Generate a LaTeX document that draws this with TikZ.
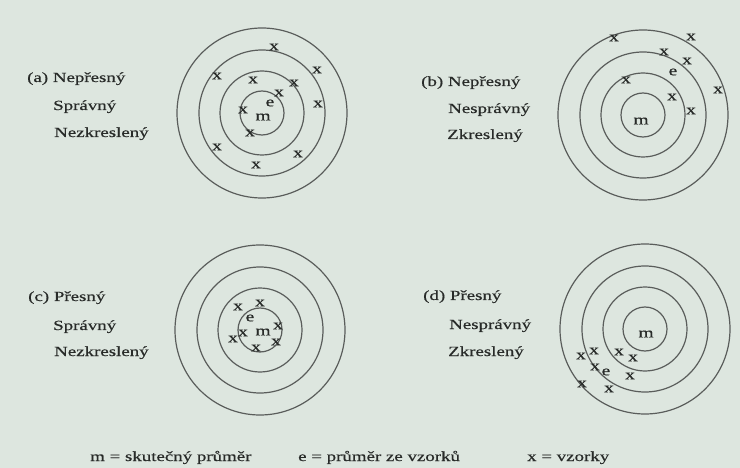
\documentclass[tikz,border=0pt]{standalone}
\usepackage{fontspec}
\setmainfont{Liberation Serif}[FakeStretch=1.35,FakeBold=0.5]
\definecolor{bgcol}{RGB}{221,230,223}
\definecolor{ringcol}{RGB}{90,93,91}
\definecolor{txtcol}{RGB}{40,43,41}
\begin{document}
\begin{tikzpicture}[x=1pt,y=-1pt,
  ring/.style={draw=ringcol, line width=1.2pt},
  lbl/.style={anchor=base west, text=txtcol, font=\fontsize{14}{14}\selectfont, inner sep=0pt},
  mk/.style={text=txtcol, font=\fontsize{14.5}{14.5}\selectfont, inner sep=0pt}]
\fill[bgcol] (0,0) rectangle (740,468);
\useasboundingbox (0,0) rectangle (740,468);
% target centres
\coordinate (A) at (262,113);
\coordinate (B) at (643,115);
\coordinate (C) at (260,330);
\coordinate (D) at (645,329);
\foreach \c in {A,B,C,D}{
  \foreach \r in {85,63,42,22}{
    \draw[ring] (\c) circle[radius=\r];
  }
}
% labels
\node[lbl] (a1) at (27,82) {(a) Nepřesný};
\node[lbl] (a2) at (53,110) {Správný};
\node[lbl] (a3) at (54,137) {Nezkreslený};
\node[lbl] (b1) at (421,86) {(b) Nepřesný};
\node[lbl] (b2) at (448,113) {Nesprávný};
\node[lbl] (b3) at (447,139) {Zkreslený};
\node[lbl] (c1) at (28,301) {(c) Přesný};
\node[lbl] (c2) at (53,330) {Správný};
\node[lbl] (c3) at (54,356) {Nezkreslený};
\node[lbl] (d1) at (423,300) {(d) Přesný};
\node[lbl] (d2) at (449,329) {Nesprávný};
\node[lbl] (d3) at (448,356) {Zkreslený};
% legend
\node[lbl] (l1) at (90,461) {m = skutečný průměr};
\node[lbl] (l2) at (298,461) {e = průměr ze vzorků};
\node[lbl] (l3) at (527,461) {x = vzorky};
% (a) marks
\node[mk] (am) at (263,117) {m};
\node[mk] (ae) at (270,103) {e};
\foreach \p [count=\i] in {(274,47),(317,70),(217,76),(253,80),(294,83),(318,104),(279,93),(243,110),(250,133),(217,147),(298,154),(256,165)}
  \node[mk] (ax\i) at \p {x};
% (b) marks
\node[mk] (bm) at (641,121) {m};
\node[mk] (be) at (673,72) {e};
\foreach \p [count=\i] in {(614,38),(691,37),(664,52),(687,61),(718,90),(626,80),(672,97),(691,111)}
  \node[mk] (bx\i) at \p {x};
% (c) marks
\node[mk] (cm) at (263,332) {m};
\node[mk] (ce) at (250,318) {e};
\foreach \p [count=\i] in {(238,307),(260,303),(243,333),(233,339),(278,326),(276,342),(256,348)}
  \node[mk] (cx\i) at \p {x};
% (d) marks
\node[mk] (dm) at (646,334) {m};
\node[mk] (de) at (606,372) {e};
\foreach \p [count=\i] in {(581,356),(594,351),(619,352),(633,358),(595,367),(630,376),(582,384),(609,389)}
  \node[mk] (dx\i) at \p {x};
\end{tikzpicture}
\end{document}
